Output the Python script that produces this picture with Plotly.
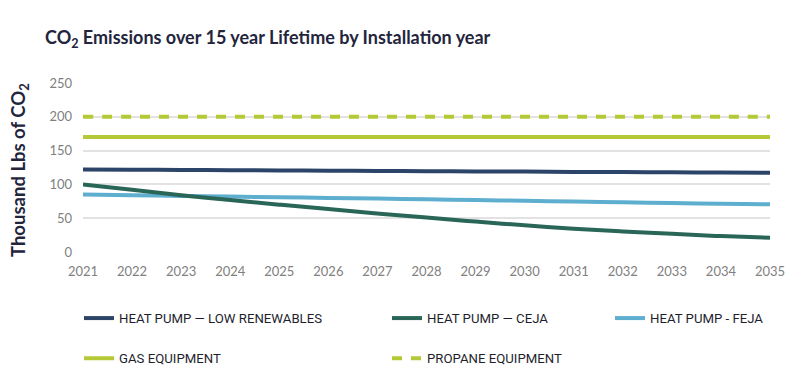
import plotly.graph_objects as go

years = list(range(2021, 2036))
low_renewables = [122, 121.7, 121.3, 121, 120.6, 120.3, 119.9, 119.6, 119.2, 118.9, 118.5, 118.2, 117.8, 117.5, 117.1]
ceja = [100, 92, 84, 77, 70, 63.5, 57, 51, 45, 39.5, 34.5, 30.5, 27, 23.5, 21]
feja = [85, 84, 83, 82, 81, 80, 79, 77.9, 76.8, 75.7, 74.6, 73.5, 72.4, 71.4, 70.5]
gas = [170] * 15
propane = [200] * 15

names = ["HEAT PUMP — LOW RENEWABLES", "HEAT PUMP — CEJA", "HEAT PUMP - FEJA", "GAS EQUIPMENT", "PROPANE EQUIPMENT"]
colors = ["#2c4468", "#2a6658", "#5eaed0", "#b5c936", "#b5c936"]

W, H = 800, 391
OFF = 8
L, R, T, B = 83 - OFF, 770 - OFF, 83 - OFF, 252 - OFF

fig = go.Figure()
series = [propane, gas, feja, ceja, low_renewables]
order = [4, 3, 2, 1, 0]
legend_of = {0: "legend", 3: "legend", 1: "legend2", 4: "legend2", 2: "legend3"}
rank = {0: 1, 3: 2, 1: 1, 4: 2, 2: 1}
for idx, s in zip(order, series):
    fig.add_trace(go.Scatter(
        x=years, y=s, mode="lines", name=names[idx],
        line=dict(color=colors[idx], width=4, dash="10px,9px" if idx == 4 else "solid", shape="spline"),
        legend=legend_of[idx], legendrank=rank[idx], legendgroup=names[idx],
        hoverinfo="skip",
    ))

leg_common = dict(
    orientation="v", xref="container", yref="container", yanchor="top", xanchor="left",
    font=dict(family="Roboto", size=13.2, color="#1e1e2e"), tracegroupgap=20,
    bgcolor="rgba(0,0,0,0)", itemwidth=30, traceorder="grouped",
)
leg_y = 1 - 295 / H
fig.update_layout(
    width=W, height=H,
    margin=dict(l=L, r=W - R, t=T, b=H - B, autoexpand=False),
    plot_bgcolor="white", paper_bgcolor="white",
    title=dict(text="CO<sub>2</sub> Emissions over 15 year Lifetime by Installation year",
               xref="container", yref="container", x=(45 - OFF) / W, y=1 - (38 - OFF) / H,
               xanchor="left", yanchor="middle",
               font=dict(family="Lato", size=18, color="#23253d", weight="bold")),
    xaxis=dict(range=[2021, 2035], tickmode="array", tickvals=years, ticktext=[str(y) for y in years],
               showgrid=False, zeroline=False, showline=False, ticklabelstandoff=10,
               tickfont=dict(family="Lato", size=13, color="#808080")),
    yaxis=dict(range=[0, 250], tickvals=[0, 50, 100, 150, 200, 250], showgrid=True, gridcolor="#e2e2e2",
               gridwidth=1.5, zeroline=False, showline=False, ticklabelstandoff=10,
               tickfont=dict(family="Lato", size=13, color="#808080")),
    legend=dict(x=71 / W, y=leg_y, **leg_common),
    legend2=dict(x=379 / W, y=leg_y, **leg_common),
    legend3=dict(x=602 / W, y=leg_y, **leg_common),
    showlegend=True,
    annotations=[dict(text="Thousand Lbs of CO<sub>2</sub>", textangle=-90, showarrow=False,
                      xref="paper", yref="paper",
                      x=(19 - OFF - L) / (R - L), y=(B - (170 - OFF)) / (B - T),
                      xanchor="center", yanchor="middle",
                      font=dict(family="Lato", size=18.5, color="#23253d", weight="bold"))],
)
fig.write_html("out.html")
